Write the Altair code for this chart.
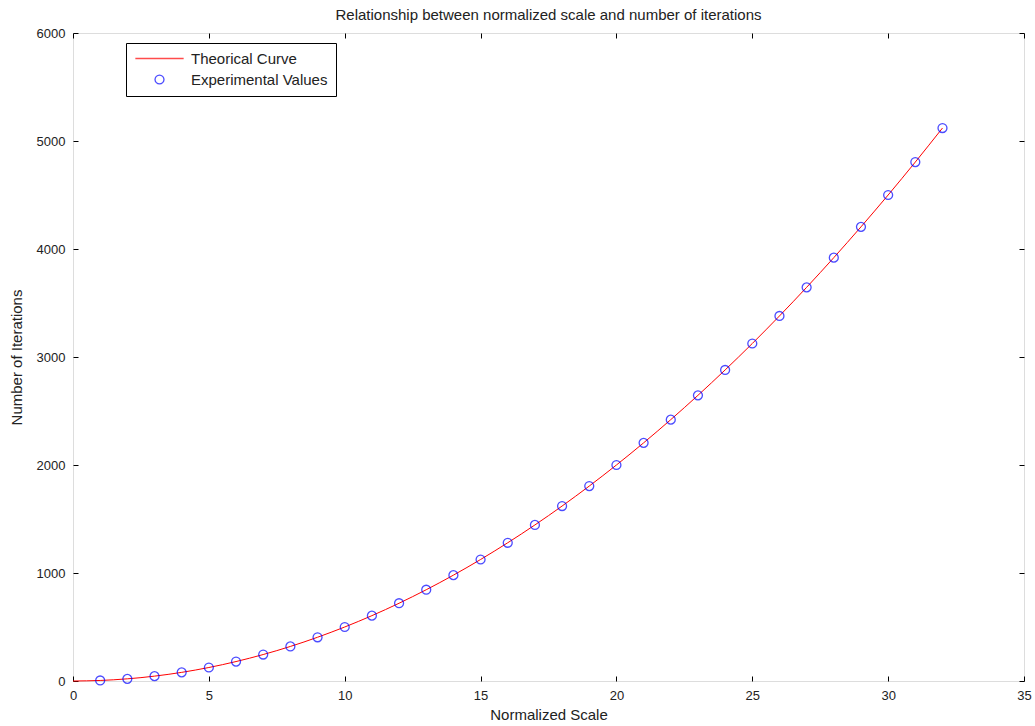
import altair as alt
import pandas as pd

# Data
exp_x = list(range(1, 33))
exp_y = [5, 20, 45, 80, 125, 180, 245, 320, 405, 500, 605, 720, 845, 980, 1125,
         1280, 1445, 1620, 1805, 2000, 2205, 2420, 2645, 2880, 3125, 3380, 3645,
         3920, 4205, 4500, 4805, 5120]
theo_x = list(range(0, 33))
theo_y = [0] + exp_y

series_names = ["Theorical Curve", "Experimental Values"]
series_colors = ["#ff0000", "#0000ff"]
series_shapes = ["M-5.4,0H5.4", "circle"]

x_ticks = [0, 5, 10, 15, 20, 25, 30, 35]
y_ticks = [0, 1000, 2000, 3000, 4000, 5000, 6000]

df_line = pd.DataFrame({"x": theo_x, "y": theo_y, "series": series_names[0]})
df_pts = pd.DataFrame({"x": exp_x, "y": exp_y, "series": series_names[1]})

FONT = "Liberation Sans"
TXT = "#222222"
xscale = alt.Scale(domain=[0, 35], nice=False)
yscale = alt.Scale(domain=[0, 6000], nice=False)

common_axis = dict(domain=False, tickSize=5, offset=-5, tickColor="#000000",
                   tickWidth=1, grid=False, labelFont=FONT, labelFontSize=13,
                   labelColor=TXT, titleFont=FONT, titleFontSize=15,
                   titleFontWeight="normal", titleColor=TXT, labelFlush=False,
                   format="d")

line = alt.Chart(df_line).mark_line(color="#ff0000", strokeWidth=1,
                                   interpolate="monotone").encode(
    x=alt.X("x:Q", scale=xscale,
            axis=alt.Axis(values=x_ticks, title="Normalized Scale", orient="bottom",
                          labelPadding=8, titlePadding=5, **common_axis)),
    y=alt.Y("y:Q", scale=yscale,
            axis=alt.Axis(values=y_ticks, title="Number of Iterations", orient="left",
                          labelPadding=8, titlePadding=12, **common_axis)),
)

legend_kw = dict(title=None, orient="none", legendX=53, legendY=10,
                 strokeColor="#000000", fillColor="#ffffff",
                 padding=8, rowPadding=5, symbolOffset=18,
                 labelOffset=24, labelFont=FONT, labelFontSize=15,
                 labelColor=TXT, symbolStrokeWidth=1.3,
                 symbolSize=80, cornerRadius=0)

points = alt.Chart(df_pts).mark_point(filled=False, size=80, strokeWidth=1.3).encode(
    x=alt.X("x:Q", scale=xscale,
            axis=alt.Axis(values=x_ticks, title=None, orient="top", labels=False,
                          **common_axis)),
    y=alt.Y("y:Q", scale=yscale,
            axis=alt.Axis(values=y_ticks, title=None, orient="right", labels=False,
                          **common_axis)),
    color=alt.Color("series:N", scale=alt.Scale(domain=series_names, range=series_colors),
                    legend=alt.Legend(**legend_kw)),
    shape=alt.Shape("series:N", scale=alt.Scale(domain=series_names, range=series_shapes),
                    legend=alt.Legend(**legend_kw)),
)

chart = alt.layer(line, points).resolve_axis(x="independent", y="independent").properties(
    width=951, height=648,
    title=alt.Title("Relationship between normalized scale and number of iterations",
                    font=FONT, fontSize=15, fontWeight="normal", color=TXT,
                    anchor="middle", offset=4),
    autosize=alt.AutoSizeParams(type="none"),
    padding={"left": 73, "top": 33, "right": 11, "bottom": 45},
).configure_view(stroke="#000000", strokeWidth=1).configure(background="#ffffff")

chart.save("out.html", embed_options={"renderer": "svg", "actions": False})
